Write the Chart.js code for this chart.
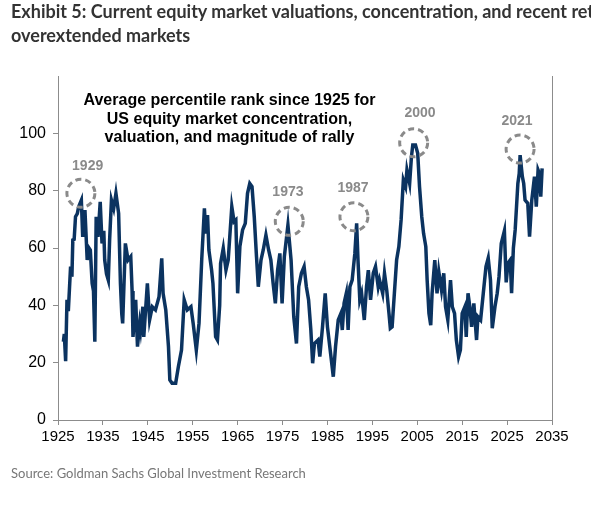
<!DOCTYPE html>
<html lang="en">
<head>
  <meta charset="UTF-8" />
  <title>Exhibit 5</title>
  <script src="https://cdn.jsdelivr.net/npm/chart.js"></script>
  <style>
    html, body { margin: 0; padding: 0; background: #fff; }
    #wrap { position: relative; width: 591px; height: 505px; overflow: hidden; }
    #chart { position: absolute; left: 0; top: 0; }
    .title { position: absolute; left: 11px; top: 0; white-space: nowrap; font-family: Lato, sans-serif; font-weight: 700; font-size: 18px; line-height: 23.5px; color: #333; }
    .source { position: absolute; left: 11px; top: 465px; white-space: nowrap; font-family: Lato, sans-serif; font-size: 13px; color: #777; }
  </style>
</head>
<body>
<div id="wrap">
  <canvas id="chart" width="591" height="505"></canvas>
  <div class="title">Exhibit 5: Current equity market valuations, concentration, and recent returns<br>overextended markets</div>
  <div class="source">Source: Goldman Sachs Global Investment Research</div>
</div>
<script>
  // x positions are in the chart's own axis years
  const years = [
    1926.2, 1926.4, 1926.7, 1927.0, 1927.3, 1927.8, 1928.1, 1928.3, 1928.6, 1928.9,
    1929.3, 1929.6, 1930.2, 1930.5, 1931.0, 1931.5, 1931.9, 1932.2, 1932.6, 1932.9,
    1933.2, 1933.5, 1933.7, 1933.9, 1934.4, 1934.8, 1935.2, 1935.4, 1935.8, 1936.2,
    1936.5, 1936.9, 1937.4, 1937.9, 1938.5, 1938.9, 1939.2, 1939.4, 1940.0, 1940.6,
    1941.2, 1941.5, 1941.7, 1942.3, 1942.7, 1943.2, 1943.4, 1943.9, 1944.1, 1944.9,
    1945.4, 1946.0, 1946.7, 1947.5, 1948.1, 1948.4, 1949.0, 1949.6, 1949.9, 1950.4,
    1951.2, 1951.8, 1952.5, 1953.1, 1953.8, 1954.6, 1955.1, 1955.8, 1956.4, 1957.0,
    1957.6, 1957.9, 1958.3, 1958.6, 1959.2, 1959.5, 1960.1, 1960.5, 1961.0, 1961.2,
    1961.8, 1962.4, 1962.9, 1963.7, 1964.2, 1964.6, 1965.0, 1965.5, 1966.1, 1966.7,
    1967.2, 1967.7, 1968.2, 1968.7, 1969.2, 1969.6, 1970.2, 1970.7, 1971.3, 1971.9,
    1972.4, 1972.9, 1973.4, 1973.9, 1974.4, 1974.9, 1975.4, 1976.2, 1976.9, 1977.5,
    1978.1, 1978.6, 1979.2, 1979.8, 1980.3, 1980.8, 1981.3, 1981.7, 1982.1, 1982.9,
    1983.3, 1983.9, 1984.5, 1985.0, 1985.7, 1986.3, 1986.8, 1987.4, 1988.0, 1988.3,
    1988.7, 1989.2, 1989.6, 1990.0, 1990.5, 1991.1, 1991.5, 1991.8, 1992.2, 1992.6,
    1993.2, 1993.7, 1994.1, 1994.6, 1995.2, 1995.7, 1996.3, 1996.6, 1997.3, 1997.7,
    1998.2, 1998.7, 1999.0, 1999.4, 1999.9, 2000.4, 2000.9, 2001.4, 2001.9, 2002.4,
    2002.7, 2003.3, 2003.7, 2004.0, 2004.6, 2005.1, 2005.5, 2006.0, 2006.4, 2006.9,
    2007.2, 2007.6, 2008.0, 2008.3, 2008.9, 2009.4, 2009.8, 2010.4, 2010.9, 2011.3,
    2011.8, 2012.4, 2012.8, 2013.3, 2013.7, 2014.2, 2014.6, 2015.0, 2015.6, 2015.9,
    2016.3, 2016.7, 2017.1, 2017.6, 2018.2, 2018.5, 2019.1, 2019.7, 2020.3, 2020.8,
    2021.3, 2021.7, 2022.3, 2022.8, 2023.2, 2023.7, 2024.4, 2024.8, 2025.2, 2025.7,
    2026.0, 2026.4, 2026.8, 2027.4, 2027.7, 2027.9, 2028.4, 2028.7, 2029.0, 2029.6,
    2030.0, 2030.5, 2031.1, 2031.5, 2031.9, 2032.2, 2032.5, 2032.8
  ];
  const rank = [
    27.3, 30.0, 20.5, 41.9, 38.0, 53.5, 50.0, 62.8, 63.0, 70.9,
    72.0, 74.4, 76.7, 63.9, 73.2, 55.8, 60.0, 59.3, 47.7, 45.0,
    27.3, 70.9, 68.0, 63.9, 76.1, 61.6, 66.0, 55.8, 51.0, 48.8,
    63.0, 76.7, 73.8, 79.1, 72.1, 47.7, 37.0, 33.7, 61.6, 55.8,
    57.0, 45.0, 29.0, 41.9, 25.6, 33.7, 31.4, 39.5, 29.0, 47.7,
    34.9, 39.5, 38.4, 43.0, 56.4, 44.2, 38.4, 25.6, 14.0, 12.8,
    12.8, 18.6, 24.4, 41.9, 38.4, 39.5, 33.7, 24.4, 33.7, 55.8,
    73.8, 65.0, 71.5, 59.3, 52.3, 47.7, 29.0, 27.9, 40.0, 54.6,
    59.9, 52.3, 55.8, 74.4, 69.2, 69.8, 44.2, 60.5, 66.3, 68.6,
    79.1, 82.5, 81.4, 70.9, 57.0, 46.5, 55.8, 59.3, 64.5, 59.3,
    55.8, 47.7, 40.7, 52.3, 58.1, 40.7, 57.0, 68.0, 55.8, 36.0,
    26.7, 46.5, 51.2, 53.5, 46.5, 41.9, 31.4, 19.8, 26.7, 27.9,
    22.1, 32.5, 44.2, 32.5, 23.2, 15.1, 25.6, 34.9, 37.2, 31.4,
    40.7, 44.2, 31.4, 46.5, 48.8, 58.1, 68.6, 55.8, 41.9, 44.2,
    34.9, 46.5, 52.3, 41.9, 51.2, 53.5, 46.5, 48.8, 44.2, 51.2,
    45.3, 37.2, 32.0, 32.5, 44.2, 55.8, 60.5, 69.8, 83.7, 81.4,
    87.2, 82.5, 91.8, 95.9, 95.9, 93.0, 81.4, 70.9, 65.1, 60.5,
    48.8, 37.2, 33.1, 44.2, 55.8, 44.2, 51.7, 45.3, 51.2, 39.5,
    34.9, 48.8, 39.5, 37.2, 27.9, 22.1, 24.4, 37.2, 39.5, 29.0,
    44.2, 39.5, 32.5, 40.7, 27.9, 36.0, 34.9, 44.2, 53.5, 56.5,
    48.8, 32.0, 39.5, 44.2, 50.0, 61.6, 66.0, 48.0, 54.7, 55.8,
    44.2, 60.0, 66.3, 82.5, 86.0, 92.4, 84.9, 82.5, 76.7, 75.6,
    64.0, 76.7, 84.9, 74.4, 87.2, 86.0, 77.9, 87.8
  ];
  const yTicks = [0, 20, 40, 60, 80, 100];
  const xTicks = [1925, 1935, 1945, 1955, 1965, 1975, 1985, 1995, 2005, 2015, 2025, 2035];

  // episode markers: label, circle centre and label anchor in data units
  const episodes = [
    { label: '1929', cx: 1930.1, cy: 79.1, lx: 1931.6, ly: 88.6 },
    { label: '1973', cx: 1976.5, cy: 69.3, lx: 1976.2, ly: 79.6 },
    { label: '1987', cx: 1990.9, cy: 70.9, lx: 1990.7, ly: 80.8 },
    { label: '2000', cx: 2004.2, cy: 96.7, lx: 2005.6, ly: 107.2 },
    { label: '2021', cx: 2027.9, cy: 94.5, lx: 2027.2, ly: 104.1 }
  ];
  const noteLines = [
    'Average percentile rank since 1925 for',
    'US equity market concentration,',
    'valuation, and magnitude of rally'
  ];

  const axisFont = { family: 'Arial, "Liberation Sans", sans-serif', size: 16 };

  const extras = {
    id: 'extras',
    afterDatasetsDraw(chart) {
      const { ctx, chartArea, scales: { x, y } } = chart;
      ctx.save();
      // right frame line
      ctx.strokeStyle = '#8c8c8c';
      ctx.lineWidth = 1;
      ctx.beginPath();
      ctx.moveTo(chartArea.right + 0.5, chartArea.top);
      ctx.lineTo(chartArea.right + 0.5, chartArea.bottom);
      ctx.stroke();

      // dashed circles + labels
      episodes.forEach(e => {
        ctx.strokeStyle = '#8a8a8a';
        ctx.lineWidth = 3;
        ctx.setLineDash([6, 4]);
        ctx.beginPath();
        ctx.arc(x.getPixelForValue(e.cx), y.getPixelForValue(e.cy), 14, 0, Math.PI * 2);
        ctx.stroke();
        ctx.setLineDash([]);
        ctx.fillStyle = '#8a8a8a';
        ctx.font = 'bold 14px Arial, "Liberation Sans", sans-serif';
        ctx.textAlign = 'center';
        ctx.textBaseline = 'middle';
        ctx.fillText(e.label, x.getPixelForValue(e.lx), y.getPixelForValue(e.ly));
      });

      // note text
      ctx.fillStyle = '#000';
      ctx.font = 'bold 16px Arial, "Liberation Sans", sans-serif';
      ctx.textAlign = 'center';
      ctx.textBaseline = 'middle';
      noteLines.forEach((t, i) => ctx.fillText(t, 229.5, 101 + i * 18.5));
      ctx.restore();
    }
  };

  new Chart(document.getElementById('chart'), {
    type: 'line',
    data: {
      datasets: [{
        data: years.map((yr, i) => ({ x: yr, y: rank[i] })),
        borderColor: '#0b3360',
        borderWidth: 3.5,
        pointRadius: 0,
        tension: 0,
        fill: false
      }]
    },
    options: {
      responsive: false,
      animation: false,
      devicePixelRatio: 1,
      layout: { padding: { left: 0, top: 76, right: 39, bottom: 55 } },
      plugins: { legend: { display: false }, tooltip: { enabled: false } },
      scales: {
        x: {
          type: 'linear',
          min: 1925,
          max: 2035,
          afterBuildTicks: s => { s.ticks = xTicks.map(v => ({ value: v })); },
          afterFit: s => { s.height = 30; },
          grid: { display: true, drawOnChartArea: false, drawTicks: true, tickLength: 5, color: '#8c8c8c' },
          border: { color: '#8c8c8c' },
          ticks: { color: '#000', font: { ...axisFont, size: 15 }, padding: 3, maxRotation: 0, autoSkip: false, callback: v => String(v) }
        },
        y: {
          min: 0,
          max: 120,
          afterBuildTicks: s => { s.ticks = yTicks.map(v => ({ value: v })); },
          afterFit: s => { s.width = 58; },
          grid: { display: true, drawOnChartArea: false, drawTicks: true, tickLength: 5, color: '#8c8c8c' },
          border: { color: '#8c8c8c' },
          ticks: { color: '#000', font: axisFont, padding: 7 }
        }
      }
    },
    plugins: [extras]
  });
</script>
</body>
</html>
